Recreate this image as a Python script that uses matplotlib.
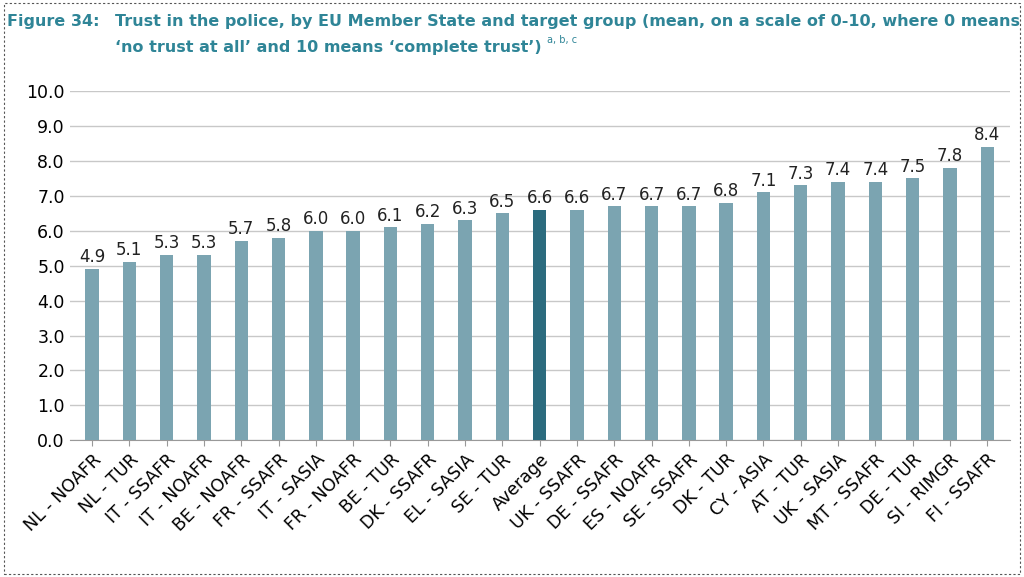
import matplotlib
matplotlib.use("Agg")
import matplotlib.pyplot as plt
from matplotlib.patches import Rectangle

categories = ["NL - NOAFR","NL - TUR","IT - SSAFR","IT - NOAFR","BE - NOAFR","FR - SSAFR",
              "IT - SASIA","FR - NOAFR","BE - TUR","DK - SSAFR","EL - SASIA","SE - TUR",
              "Average","UK - SSAFR","DE - SSAFR","ES - NOAFR","SE - SSAFR","DK - TUR",
              "CY - ASIA","AT - TUR","UK - SASIA","MT - SSAFR","DE - TUR","SI - RIMGR","FI - SSAFR"]
values = [4.9,5.1,5.3,5.3,5.7,5.8,6.0,6.0,6.1,6.2,6.3,6.5,6.6,6.6,6.7,6.7,6.7,6.8,7.1,7.3,7.4,7.4,7.5,7.8,8.4]
yticks = [0,1,2,3,4,5,6,7,8,9,10]

fig = plt.figure(figsize=(10.24,5.77), dpi=100)
ax = fig.add_axes([0.068, 0.237, 0.918, 0.605])
colors = ["#2b6b7e" if c == "Average" else "#7ba4b1" for c in categories]
x = range(len(categories))
ax.bar(x, values, width=0.36, color=colors, zorder=3)
for i, v in zip(x, values):
    ax.text(i, v + 0.08, f"{v:.1f}", ha="center", va="bottom", fontsize=12, color="#222222")
ax.set_ylim(0, 10)
ax.set_xlim(-0.6, len(categories) - 0.4)
ax.set_yticks(yticks)
ax.set_yticklabels([f"{t:.1f}" for t in yticks], fontsize=12.5)
ax.grid(axis="y", color="#c8c8c8", lw=1, zorder=0)
ax.set_xticks(list(x))
ax.set_xticklabels(categories, rotation=45, ha="right", rotation_mode="anchor", fontsize=12.5)
for s in ["top", "right", "left"]:
    ax.spines[s].set_visible(False)
ax.spines["bottom"].set_color("#999999")
ax.tick_params(axis="y", length=0)
ax.tick_params(axis="x", length=4, color="#999999")

tc = "#2f8597"
tf = dict(fontsize=11.5, color=tc, fontweight="bold", va="center")
fig.text(0.007, 0.962, "Figure 34:", **tf)
fig.text(0.112, 0.962, "Trust in the police, by EU Member State and target group (mean, on a scale of 0-10, where 0 means", **tf)
t2 = fig.text(0.112, 0.918, "\u2018no trust at all\u2019 and 10 means \u2018complete trust\u2019)", **tf)
fig.canvas.draw()
bb = t2.get_window_extent()
fig.text(bb.x1 / fig.bbox.width + 0.006, 0.93, "a, b, c", fontsize=7, color=tc, va="center")

fig.patches.append(Rectangle((0.004, 0.006), 0.992, 0.988, transform=fig.transFigure,
                             fill=False, ls=(0, (2, 2)), lw=0.8, ec="#555555"))
plt.savefig("out.png", dpi=100)
